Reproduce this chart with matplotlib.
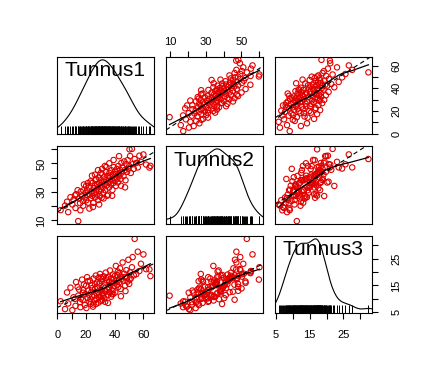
import numpy as np
import matplotlib
matplotlib.use("Agg")
import matplotlib.pyplot as plt
import matplotlib.transforms as mtransforms

plt.rcParams['font.family'] = ['Liberation Sans', 'DejaVu Sans']

names = ["Tunnus1", "Tunnus2", "Tunnus3"]

t1 = [2.3, 5.4, 6.8, 7.6, 9.2, 10.5, 11.3, 12.7, 13.1, 14.6, 15.2, 15.9, 16.4, 17.3, 17.8, 18.1, 18.6, 19.2, 19.7, 20.3,
      20.8, 21.1, 21.6, 22.2, 22.7, 23.3, 23.8, 24.1, 24.5, 24.9, 25.3, 25.8, 26.1, 26.4, 26.9, 27.2, 27.5, 27.9, 28.2, 28.6,
      28.9, 29.1, 29.4, 29.8, 30.1, 30.4, 30.7, 30.9, 31.2, 31.5, 31.8, 32.1, 32.4, 32.8, 33.1, 33.4, 33.8, 34.1, 34.5, 34.8,
      35.2, 35.5, 35.9, 36.1, 36.4, 36.8, 37.1, 37.5, 37.8, 38.2, 38.5, 38.9, 39.1, 39.4, 39.8, 40.2, 40.5, 40.9, 41.2, 41.6,
      41.9, 42.3, 42.6, 42.9, 43.3, 43.8, 44.2, 44.7, 45.1, 45.6, 46.2, 46.7, 47.1, 47.6, 48.2, 48.7, 49.1, 49.6, 50.2, 50.8,
      51.3, 52.1, 52.6, 53.4, 54.0, 55.1, 56.2, 57.3, 58.4, 60.1, 62.0, 64.3, 65.0, 50.4, 20.1, 23.2, 26.3, 28.4, 31.3, 34.2,
      36.3, 25.1, 29.2, 32.3, 35.4, 38.3, 14.2, 12.3, 16.1, 22.4, 44.4, 47.3, 43.1, 39.3, 33.2, 30.3, 27.1, 24.2, 21.3, 18.2]
t2 = [17.2, 20.4, 23.1, 15.8, 26.3, 21.2, 24.5, 18.7, 28.4, 9.5, 25.3, 22.1, 30.2, 27.4, 23.6, 20.3, 35.2, 26.1, 29.4, 24.2,
      31.3, 27.5, 22.4, 33.1, 28.2, 25.6, 30.3, 36.1, 27.2, 19.4, 32.5, 29.1, 34.3, 26.2, 38.4, 31.1, 28.3, 35.6, 33.2, 24.4,
      40.1, 30.5, 36.3, 27.1, 34.4, 38.2, 31.6, 25.9, 36.5, 42.2, 33.3, 29.4, 37.1, 40.3, 35.5, 31.2, 44.1, 38.3, 34.6, 27.3,
      41.2, 36.4, 39.5, 33.1, 43.4, 37.2, 40.6, 35.3, 45.2, 38.5, 31.4, 42.3, 36.2, 47.4, 40.1, 44.3, 38.1, 34.2, 42.5, 46.1,
      39.3, 36.6, 48.2, 43.1, 41.4, 45.5, 39.2, 50.3, 43.6, 47.2, 41.1, 51.4, 45.3, 38.2, 49.5, 44.1, 52.3, 46.4, 48.1, 55.2,
      43.3, 60.2, 49.4, 46.2, 53.1, 50.3, 47.2, 55.4, 51.1, 56.3, 49.2, 47.1, 48.3, 59.9, 34.2, 37.4, 42.1, 45.3, 46.2, 47.5,
      50.1, 22.3, 21.2, 25.4, 28.1, 27.3, 31.2, 27.5, 17.1, 18.3, 34.4, 33.2, 55.1, 52.4, 48.2, 43.3, 39.1, 41.4, 36.2, 31.1]
t3 = [9.1, 6.2, 12.4, 8.3, 14.2, 5.8, 10.6, 7.4, 16.3, 11.2, 13.5, 8.8, 10.1, 17.2, 9.6, 12.3, 15.4, 7.7, 11.8, 6.6,
      18.1, 10.4, 13.1, 11.5, 16.8, 8.2, 12.6, 15.1, 10.9, 7.1, 17.6, 11.3, 9.4, 13.8, 18.7, 10.2, 12.1, 16.2, 14.3, 8.6,
      17.9, 11.6, 15.7, 19.3, 10.7, 13.4, 9.2, 16.6, 12.2, 17.4, 11.1, 14.6, 18.4, 10.3, 15.9, 8.9, 19.8, 12.8, 16.9, 13.6,
      11.4, 18.2, 14.1, 16.4, 12.5, 20.6, 15.2, 10.8, 17.7, 16.1, 13.2, 19.1, 11.9, 17.3, 14.8, 18.6, 12.4, 22.3, 16.7, 15.3,
      18.9, 20.2, 14.5, 17.1, 16.2, 21.4, 13.7, 18.3, 17.5, 23.6, 16.8, 19.4, 18.1, 12.9, 20.7, 17.9, 16.5, 24.6, 15.6, 19.9,
      17.6, 21.8, 25.6, 18.8, 32.4, 19.2, 27.6, 20.4, 23.1, 26.6, 21.1, 21.0, 18.5, 17.2, 14.9, 9.9, 15.5, 12.7, 9.7, 17.8,
      13.9, 7.9, 10.5, 12.0, 8.5, 11.7, 14.4, 10.0, 6.9, 9.0, 11.0, 15.0, 19.6, 16.0, 13.0, 18.0, 8.1, 14.0, 16.6, 13.3]

data = [np.array(t1, float), np.array(t2, float), np.array(t3, float)]

ticks = [[0, 10, 20, 30, 40, 50, 60],
         [10, 20, 30, 40, 50, 60],
         [5, 10, 15, 20, 25, 30]]
tick_labels = [["0", "", "20", "", "40", "", "60"],
               ["10", "", "30", "", "50", ""],
               ["5", "", "15", "", "25", ""]]

W, H = 429, 371
fig = plt.figure(figsize=(W / 100, H / 100), dpi=100)
cols = [(57, 154), (166, 263), (275, 372)]
rows = [(57, 134), (146, 224), (236, 313)]


def lim_of(v):
    lo, hi = v.min(), v.max()
    r = hi - lo
    return lo - 0.04 * r, hi + 0.04 * r


def lowess(x, y, f=0.5, iters=3):
    o = np.argsort(x)
    x = x[o]; y = y[o]
    n = len(x)
    r = int(np.ceil(f * n))
    fit = np.zeros(n)
    delta = np.ones(n)
    for _ in range(iters + 1):
        for i in range(n):
            d = np.abs(x - x[i])
            h = max(np.sort(d)[r - 1], 1e-9)
            w = np.clip(d / h, 0, 1)
            w = (1 - w ** 3) ** 3 * delta
            sw = w.sum()
            mx = (w * x).sum() / sw
            my = (w * y).sum() / sw
            vx = (w * (x - mx) ** 2).sum()
            b = (w * (x - mx) * (y - my)).sum() / vx if vx > 0 else 0
            fit[i] = my + b * (x[i] - mx)
        res = y - fit
        s = np.median(np.abs(res))
        u = np.clip(res / (6 * s), -1, 1)
        delta = (1 - u ** 2) ** 2
    return x, fit


def kde(v):
    n = len(v)
    sd = v.std(ddof=1)
    iqr = np.subtract(*np.percentile(v, [75, 25]))
    bw = 0.9 * min(sd, iqr / 1.34) * n ** -0.2
    g = np.linspace(v.min() - 3 * bw, v.max() + 3 * bw, 512)
    d = np.exp(-0.5 * ((g[:, None] - v[None, :]) / bw) ** 2).sum(1) / (n * bw * np.sqrt(2 * np.pi))
    return g, d


fs_tick = 8
for i in range(3):
    for j in range(3):
        x0, x1 = cols[j]
        y0, y1 = rows[i]
        ax = fig.add_axes([x0 / W, 1 - y1 / H, (x1 - x0) / W, (y1 - y0) / H])
        xv, yv = data[j], data[i]
        for sp in ax.spines.values():
            sp.set_linewidth(0.8)
        ax.set_xticks(ticks[j])
        ax.set_xticklabels(tick_labels[j])
        ax.set_yticks(ticks[i])
        ax.set_yticklabels(tick_labels[i])
        ax.tick_params(axis='both', which='both', direction='out', length=4,
                       width=0.8, labelsize=fs_tick, bottom=False, top=False,
                       left=False, right=False, labelbottom=False, labeltop=False,
                       labelleft=False, labelright=False)
        if i == 0 and j % 2 == 1:
            ax.tick_params(axis='x', top=True, labeltop=True, pad=3.5)
        if i == 2 and j % 2 == 0:
            ax.tick_params(axis='x', bottom=True, labelbottom=True, pad=8)
        if j == 0 and i % 2 == 1:
            ax.tick_params(axis='y', left=True, labelleft=True, pad=3.5)
            for lb in ax.get_yticklabels():
                lb.set_rotation(90); lb.set_va('center')
        if j == 2 and i % 2 == 0:
            ax.tick_params(axis='y', right=True, labelright=True, pad=10)
            for lb in ax.get_yticklabels():
                lb.set_rotation(90); lb.set_va('center')

        if i == j:
            g, d = kde(xv)
            yy = xv.min() + (d - d.min()) * (xv.max() - xv.min()) / (d.max() - d.min())
            ax.plot(g, yy, color='black', lw=0.8)
            tr = mtransforms.blended_transform_factory(ax.transData, ax.transAxes)
            ax.vlines(xv, 0, 0.1, transform=tr, color='black', lw=0.7)
            ax.text(0.49, 0.82, names[i], transform=ax.transAxes, ha='center',
                    va='center', fontsize=15)
        else:
            ax.scatter(xv, yv, s=15, facecolors='none', edgecolors='#e00000',
                       linewidths=0.8, zorder=2)
            b, a = np.polyfit(xv, yv, 1)
            xl = np.array(lim_of(xv))
            ax.plot(xl, a + b * xl, color='black', lw=0.8, ls=(0, (4, 3)), zorder=3)
            sx, sy = lowess(xv, yv)
            ax.plot(sx, sy, color='black', lw=0.9, zorder=3)
        ax.set_xlim(*lim_of(xv))
        ax.set_ylim(*lim_of(yv))

fig.savefig("out.png", dpi=100)
